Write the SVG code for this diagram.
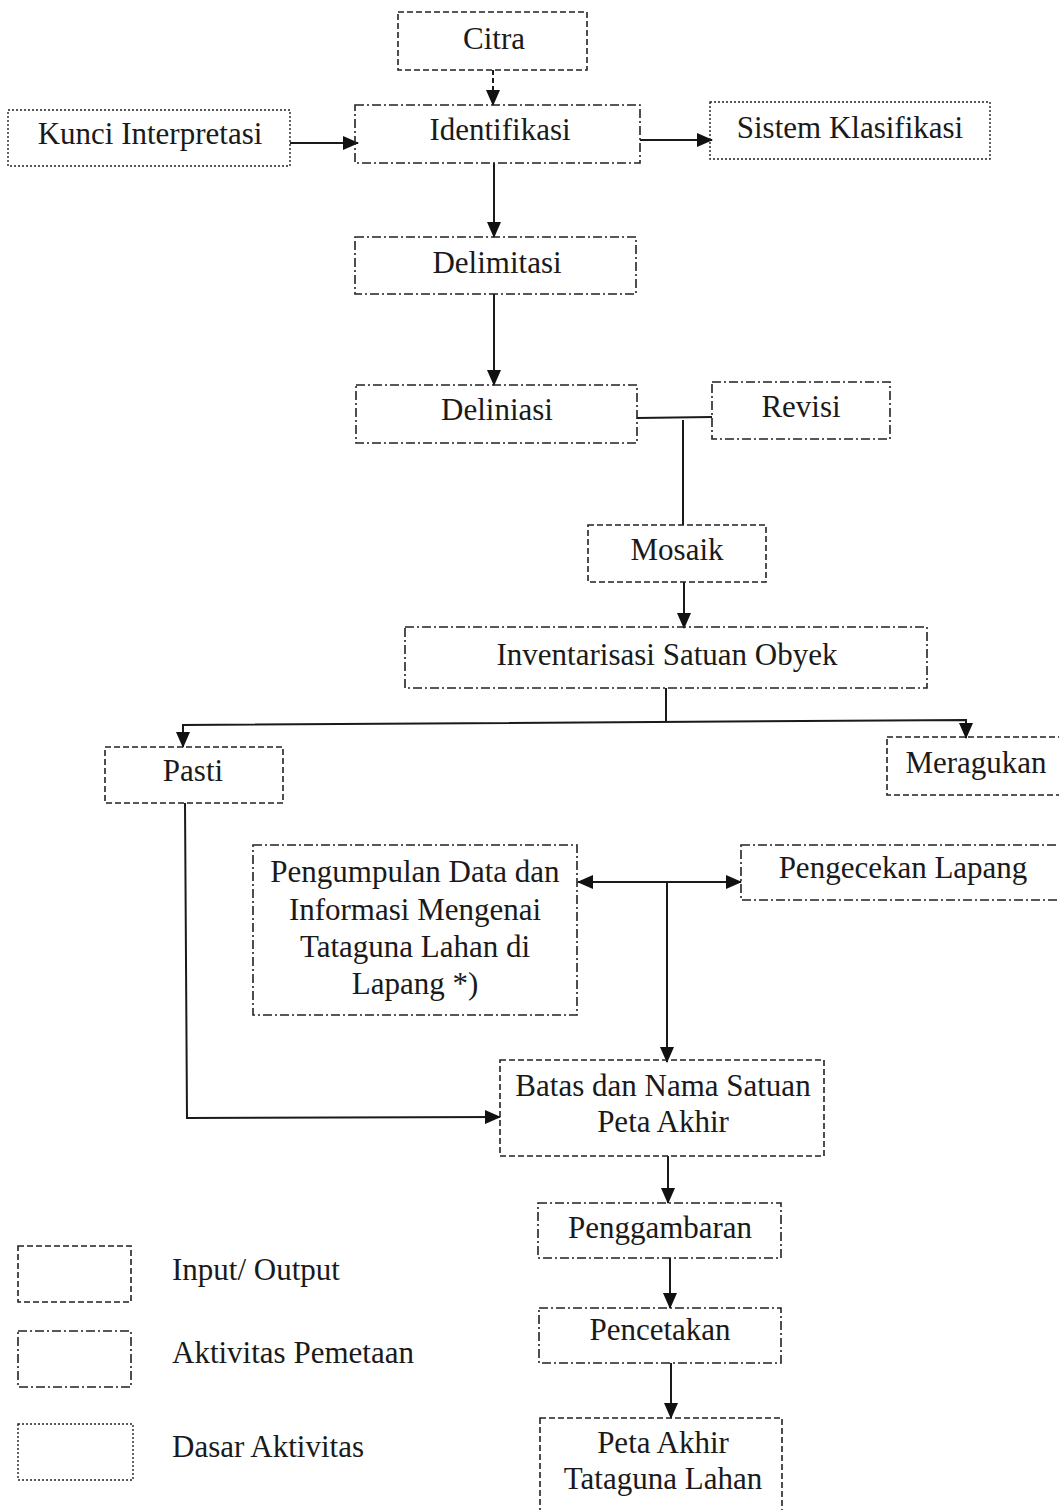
<svg xmlns="http://www.w3.org/2000/svg" width="1059" height="1510" viewBox="0 0 1059 1510">
<style>
  .box{fill:none;stroke:#222;stroke-width:1.6}
  .io{stroke-dasharray:6 3}
  .act{stroke-dasharray:9 3 2 3}
  .dot{stroke-dasharray:2 2;stroke-width:1.4}
  .t{font-family:"Liberation Serif","Times New Roman",serif;font-size:31px;fill:#1a1a1a;text-anchor:middle}
  .tl{font-family:"Liberation Serif","Times New Roman",serif;font-size:31px;fill:#1a1a1a;text-anchor:start}
  .ln{fill:none;stroke:#1a1a1a;stroke-width:2}
</style>
<defs>
  <marker id="ah" viewBox="0 0 16 14" refX="15" refY="7" markerWidth="16" markerHeight="14" markerUnits="userSpaceOnUse" orient="auto-start-reverse">
    <path d="M0,0 L16,7 L0,14 Z" fill="#111"/>
  </marker>
</defs>
<rect width="1059" height="1510" fill="#fff"/>

<g id="connectors">
  <line class="ln" x1="493" y1="70" x2="493" y2="105" stroke-dasharray="5 3" marker-end="url(#ah)"/>
  <line class="ln" x1="290" y1="143" x2="358" y2="143" marker-end="url(#ah)"/>
  <line class="ln" x1="640" y1="140" x2="712" y2="140" marker-end="url(#ah)"/>
  <line class="ln" x1="494" y1="163" x2="494" y2="237" marker-end="url(#ah)"/>
  <line class="ln" x1="494" y1="294" x2="494" y2="385" marker-end="url(#ah)"/>
  <line class="ln" x1="637" y1="418" x2="712" y2="417"/>
  <line class="ln" x1="683" y1="420" x2="683" y2="525"/>
  <line class="ln" x1="684" y1="582" x2="684" y2="628" marker-end="url(#ah)"/>
  <line class="ln" x1="666" y1="688" x2="666" y2="722"/>
  <polyline class="ln" points="183,747 183,725 966,720 966,738" marker-start="url(#ah)" marker-end="url(#ah)"/>
  <polyline class="ln" points="185,803 187,1118 500,1117" marker-end="url(#ah)"/>
  <line class="ln" x1="578" y1="882" x2="741" y2="882" marker-start="url(#ah)" marker-end="url(#ah)"/>
  <line class="ln" x1="667" y1="882" x2="667" y2="1062" marker-end="url(#ah)"/>
  <line class="ln" x1="668" y1="1156" x2="668" y2="1203" marker-end="url(#ah)"/>
  <line class="ln" x1="670" y1="1258" x2="670" y2="1308" marker-end="url(#ah)"/>
  <line class="ln" x1="671" y1="1363" x2="671" y2="1418" marker-end="url(#ah)"/>
</g>

<g id="citra"><rect class="box io" x="398" y="12" width="189" height="58"/><text class="t" x="494" y="49">Citra</text></g>
<g id="kunci"><rect class="box dot" x="8" y="110" width="282" height="56"/><text class="t" x="150" y="144">Kunci Interpretasi</text></g>
<g id="identifikasi"><rect class="box act" x="355" y="105" width="285" height="58"/><text class="t" x="500" y="140">Identifikasi</text></g>
<g id="sistem"><rect class="box dot" x="710" y="102" width="280" height="57"/><text class="t" x="850" y="138">Sistem Klasifikasi</text></g>
<g id="delimitasi"><rect class="box act" x="355" y="237" width="281" height="57"/><text class="t" x="497" y="273">Delimitasi</text></g>
<g id="deliniasi"><rect class="box act" x="356" y="385" width="281" height="58"/><text class="t" x="497" y="420">Deliniasi</text></g>
<g id="revisi"><rect class="box act" x="712" y="382" width="178" height="57"/><text class="t" x="801" y="417">Revisi</text></g>
<g id="mosaik"><rect class="box io" x="588" y="525" width="178" height="57"/><text class="t" x="677" y="560">Mosaik</text></g>
<g id="inventarisasi"><rect class="box act" x="405" y="627" width="522" height="61"/><text class="t" x="667" y="665">Inventarisasi Satuan Obyek</text></g>
<g id="pasti"><rect class="box io" x="105" y="747" width="178" height="56"/><text class="t" x="193" y="781">Pasti</text></g>
<g id="meragukan"><rect class="box io" x="887" y="737" width="180" height="58"/><text class="t" x="976" y="773">Meragukan</text></g>
<g id="pengumpulan"><rect class="box act" x="253" y="845" width="324" height="170"/>
  <text class="t" x="415" y="882">Pengumpulan Data dan</text>
  <text class="t" x="415" y="920">Informasi Mengenai</text>
  <text class="t" x="415" y="957">Tataguna Lahan di</text>
  <text class="t" x="415" y="994">Lapang *)</text></g>
<g id="pengecekan"><rect class="box act" x="741" y="845" width="326" height="55"/><text class="t" x="903" y="878">Pengecekan Lapang</text></g>
<g id="batas"><rect class="box io" x="500" y="1060" width="324" height="96"/>
  <text class="t" x="663" y="1096">Batas dan Nama Satuan</text>
  <text class="t" x="663" y="1132">Peta Akhir</text></g>
<g id="penggambaran"><rect class="box act" x="538" y="1203" width="243" height="55"/><text class="t" x="660" y="1238">Penggambaran</text></g>
<g id="pencetakan"><rect class="box act" x="539" y="1308" width="242" height="55"/><text class="t" x="660" y="1340">Pencetakan</text></g>
<g id="peta-akhir"><rect class="box io" x="540" y="1418" width="242" height="94"/>
  <text class="t" x="663" y="1453">Peta Akhir</text>
  <text class="t" x="663" y="1489">Tataguna Lahan</text></g>

<g id="legend">
  <rect class="box io" x="18" y="1246" width="113" height="56"/><text class="tl" x="172" y="1280">Input/ Output</text>
  <rect class="box act" x="18" y="1331" width="113" height="56"/><text class="tl" x="172" y="1363">Aktivitas Pemetaan</text>
  <rect class="box dot" x="18" y="1424" width="115" height="56"/><text class="tl" x="172" y="1457">Dasar Aktivitas</text>
</g>
</svg>
